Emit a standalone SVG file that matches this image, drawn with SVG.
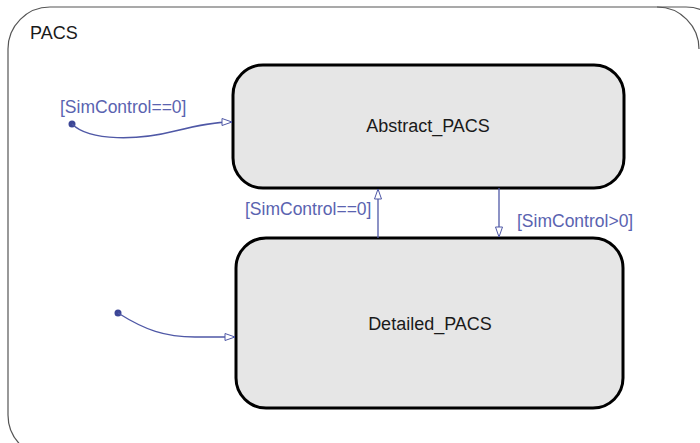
<svg xmlns="http://www.w3.org/2000/svg" width="700" height="443" viewBox="0 0 700 443">
<defs>
<marker id="arr" viewBox="0 0 12 10" refX="11" refY="5" markerWidth="12" markerHeight="10" markerUnits="userSpaceOnUse" orient="auto">
<path d="M1,1.5 L11,5 L1,8.5 Z" fill="#ffffff" stroke="#4f58a6" stroke-width="1"/>
</marker>
</defs>
<style>
.state{fill:#e6e6e6;stroke:#000;stroke-width:3}
.name{font-family:"Liberation Sans",Arial,sans-serif;font-size:18px;fill:#1a1a1a;text-anchor:middle}
.lbl{font-family:"Liberation Sans",Arial,sans-serif;font-size:17.5px;fill:#5a63b0}
.tr{fill:none;stroke:#4f58a6;stroke-width:1.3;marker-end:url(#arr)}
</style>
<rect width="700" height="443" fill="#fff"/>
<g id="PACS">
<rect x="8" y="7" width="720" height="450" rx="42" ry="42" fill="#fff" stroke="#555" stroke-width="1.2"/>
<path d="M 657 7 A 42 42 0 0 1 699 49" fill="none" stroke="#555" stroke-width="1.2"/>
<text x="30" y="39" font-family="Liberation Sans,Arial,sans-serif" font-size="18px" fill="#1a1a1a">PACS</text>
</g>
<g id="Abstract_PACS">
<rect class="state" x="233" y="65" width="391" height="123" rx="30" ry="30"/>
<text class="name" x="428" y="132">Abstract_PACS</text>
</g>
<g id="Detailed_PACS">
<rect class="state" x="236" y="238" width="387" height="170" rx="30" ry="30"/>
<text class="name" x="430" y="330">Detailed_PACS</text>
</g>
<g id="connectors">
<circle cx="72" cy="124" r="3.5" fill="#3c4696"/>
<path class="tr" d="M 72 124 C 90 142 140 140 175 131 C 200 125 215 122 232 122"/>
<text class="lbl" x="60" y="113">[SimControl==0]</text>
<circle cx="118" cy="313" r="3.5" fill="#3c4696"/>
<path class="tr" d="M 118 313 C 145 330 165 337 195 337 L 235 337"/>
<path class="tr" d="M 378 238 L 378 189"/>
<text class="lbl" x="245" y="215">[SimControl==0]</text>
<path class="tr" d="M 499 188 L 499 237"/>
<text class="lbl" x="517" y="227">[SimControl&gt;0]</text>
</g>
</svg>
